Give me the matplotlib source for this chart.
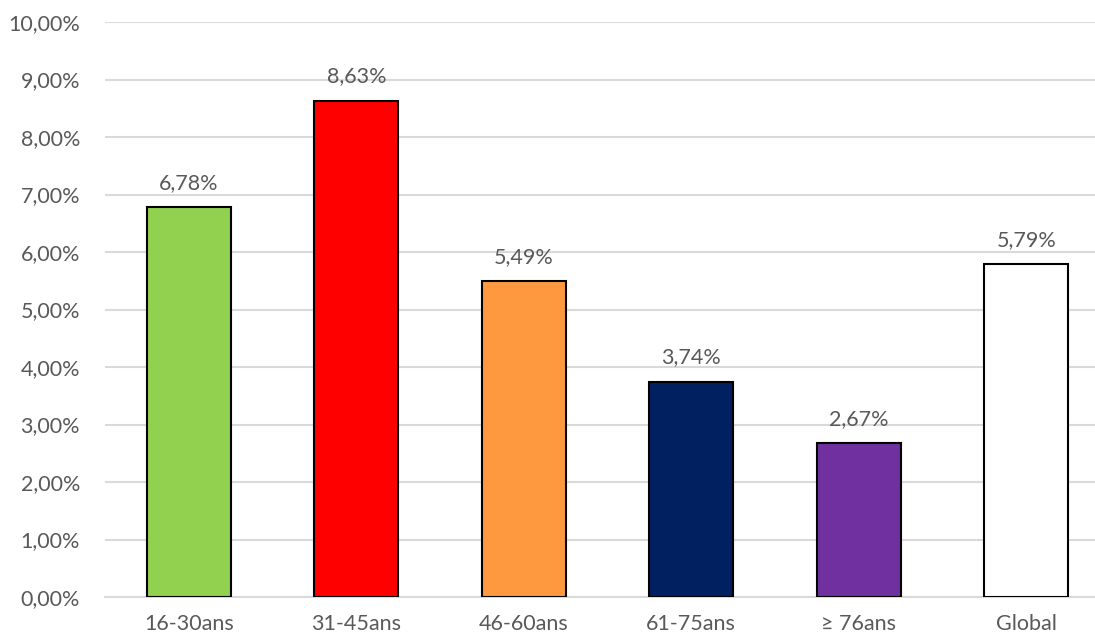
import matplotlib.pyplot as plt
from matplotlib.ticker import FuncFormatter

categories = ["16-30ans", "31-45ans", "46-60ans", "61-75ans", "\u2265 76ans", "Global"]
values = [6.78, 8.63, 5.49, 3.74, 2.67, 5.79]
colors = ["#92D050", "#FF0000", "#FF9940", "#002060", "#7030A0", "#FFFFFF"]

plt.rcParams['font.family'] = ['Lato', 'DejaVu Sans']
text_color = "#595959"

fig = plt.figure(figsize=(10.95, 6.36), dpi=100)
ax = fig.add_axes([105 / 1095, 1 - 597 / 636, 1 - 105 / 1095, (597 - 22) / 636])

x = range(len(categories))
bars = ax.bar(x, values, width=0.5, color=colors, edgecolor="black", linewidth=1.5, zorder=3)

for b, v in zip(bars, values):
    ax.text(b.get_x() + b.get_width() / 2, v + 0.25, ("%.2f%%" % v).replace(".", ","),
            ha="center", va="bottom", fontsize=15.5, color=text_color)

ax.set_ylim(0, 10)
ax.set_xlim(-0.5, 5.41)
ax.set_yticks(range(0, 11))
ax.yaxis.set_major_formatter(FuncFormatter(lambda v, p: ("%.2f%%" % v).replace(".", ",")))
ax.set_xticks(list(x))
ax.set_xticklabels(categories)
ax.tick_params(axis="both", length=0, labelsize=15.5, colors=text_color)
ax.tick_params(axis="y", pad=18)
ax.tick_params(axis="x", pad=12)

ax.grid(axis="y", color="#D9D9D9", linewidth=1.5, zorder=0)
for s in ["top", "right", "left"]:
    ax.spines[s].set_visible(False)
ax.spines["bottom"].set_color("#D9D9D9")
ax.spines["bottom"].set_linewidth(1.5)

fig.savefig("out.png", dpi=100)
